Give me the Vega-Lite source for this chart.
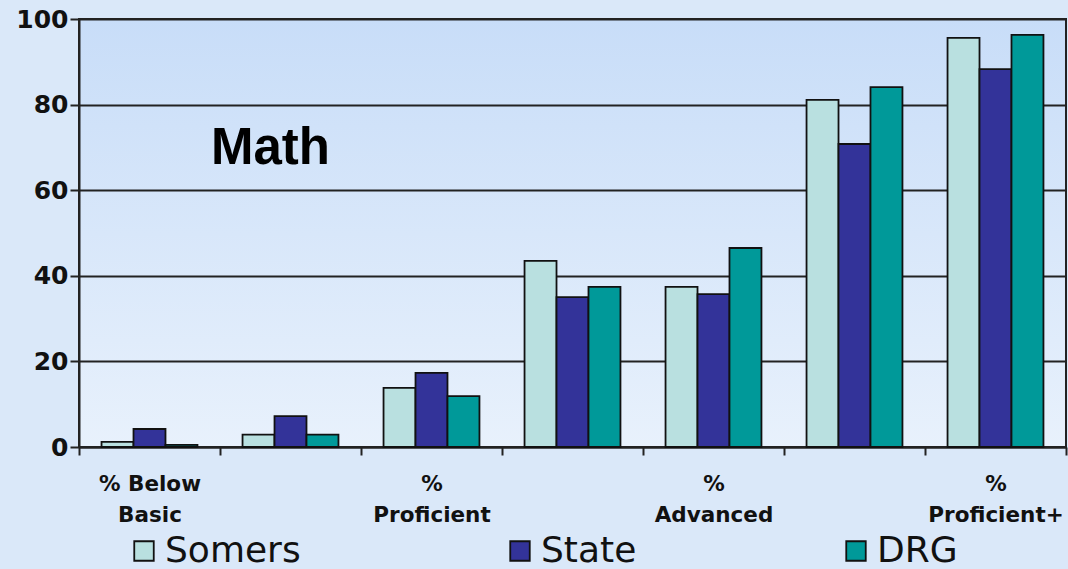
{
  "$schema": "https://vega.github.io/schema/vega-lite/v6.json",
  "width": 987,
  "height": 428,
  "autosize": {"type": "none"},
  "padding": {"left": 79, "top": 19, "right": 2, "bottom": 122},
  "background": "#dae8f9",
  "config": {
    "view": {
      "stroke": "#222",
      "strokeWidth": 2,
      "fill": {
        "gradient": "linear",
        "x1": 0, "y1": 0, "x2": 0, "y2": 1,
        "stops": [
          {"offset": 0, "color": "#c8ddf8"},
          {"offset": 1, "color": "#e8f1fc"}
        ]
      }
    },
    "font": "DejaVu Sans"
  },
  "data": {
    "values": [
      {"cat": "% Below Basic", "group": "Somers", "value": 1.2},
      {"cat": "% Below Basic", "group": "State", "value": 4.2},
      {"cat": "% Below Basic", "group": "DRG", "value": 0.5},
      {"cat": "% Basic", "group": "Somers", "value": 2.9},
      {"cat": "% Basic", "group": "State", "value": 7.2},
      {"cat": "% Basic", "group": "DRG", "value": 2.9},
      {"cat": "% Proficient", "group": "Somers", "value": 13.8},
      {"cat": "% Proficient", "group": "State", "value": 17.3},
      {"cat": "% Proficient", "group": "DRG", "value": 11.9},
      {"cat": "% Goal", "group": "Somers", "value": 43.5},
      {"cat": "% Goal", "group": "State", "value": 35.0},
      {"cat": "% Goal", "group": "DRG", "value": 37.4},
      {"cat": "% Advanced", "group": "Somers", "value": 37.4},
      {"cat": "% Advanced", "group": "State", "value": 35.7},
      {"cat": "% Advanced", "group": "DRG", "value": 46.5},
      {"cat": "% Goal+", "group": "Somers", "value": 81.1},
      {"cat": "% Goal+", "group": "State", "value": 70.8},
      {"cat": "% Goal+", "group": "DRG", "value": 84.1},
      {"cat": "% Proficient+", "group": "Somers", "value": 95.6},
      {"cat": "% Proficient+", "group": "State", "value": 88.3},
      {"cat": "% Proficient+", "group": "DRG", "value": 96.3}
    ]
  },
  "layer": [
    {
      "mark": {"type": "bar", "stroke": "#111", "strokeWidth": 1.8},
      "encoding": {
        "x": {
          "field": "cat",
          "type": "nominal",
          "sort": null,
          "scale": {"paddingInner": 0, "paddingOuter": 0},
          "axis": {
            "title": null,
            "labelAngle": 0,
            "tickBand": "extent",
            "domainColor": "#222",
            "domainWidth": 2,
            "tickColor": "#222",
            "tickWidth": 2,
            "tickSize": 8,
            "labelFont": "DejaVu Sans",
            "labelFontWeight": "bold",
            "labelFontSize": 21.5,
            "labelColor": "#111",
            "labelPadding": 18,
            "labelLineHeight": 31,
            "labelLimit": 300,
            "labelExpr": "datum.label == '% Below Basic' ? ['% Below','Basic'] : datum.label == '% Proficient' ? ['%','Proficient'] : datum.label == '% Advanced' ? ['%','Advanced'] : datum.label == '% Proficient+' ? ['%','Proficient+'] : ''"
          }
        },
        "xOffset": {
          "field": "group",
          "type": "nominal",
          "sort": ["Somers", "State", "DRG"],
          "scale": {"paddingInner": 0, "paddingOuter": 0.705}
        },
        "y": {
          "field": "value",
          "type": "quantitative",
          "scale": {"domain": [0, 100], "nice": false},
          "axis": {
            "title": null,
            "values": [0, 20, 40, 60, 80, 100],
            "grid": true,
            "gridColor": "#222",
            "gridWidth": 2,
            "gridOpacity": 1,
            "domainColor": "#222",
            "domainWidth": 2,
            "tickColor": "#222",
            "tickWidth": 2,
            "tickSize": 9,
            "labelFont": "DejaVu Sans",
            "labelFontWeight": "bold",
            "labelFontSize": 25,
            "labelColor": "#111",
            "labelPadding": 2
          }
        },
        "color": {
          "field": "group",
          "type": "nominal",
          "sort": ["Somers", "State", "DRG"],
          "scale": {"domain": ["Somers", "State", "DRG"], "range": ["#b9e0e0", "#333399", "#009999"]},
          "legend": {
            "title": null,
            "orient": "none",
            "direction": "horizontal",
            "legendX": 47,
            "legendY": 514,
            "symbolType": "square",
            "symbolSize": 380,
            "symbolStrokeColor": "#111",
            "symbolStrokeWidth": 1.8,
            "labelFont": "DejaVu Sans",
            "labelFontSize": 36,
            "labelColor": "#111",
            "labelOffset": 3,
            "labelLimit": 300,
            "columnPadding": 201
          }
        }
      }
    },
    {
      "data": {"values": [{}]},
      "mark": {"type": "text", "text": "Math", "font": "Liberation Sans", "fontWeight": "bold", "fontSize": 51, "color": "#000", "dx": -20, "dy": 2},
      "encoding": {
        "x": {"datum": "% Basic", "type": "nominal"},
        "y": {"datum": 70, "type": "quantitative"}
      }
    }
  ]
}
